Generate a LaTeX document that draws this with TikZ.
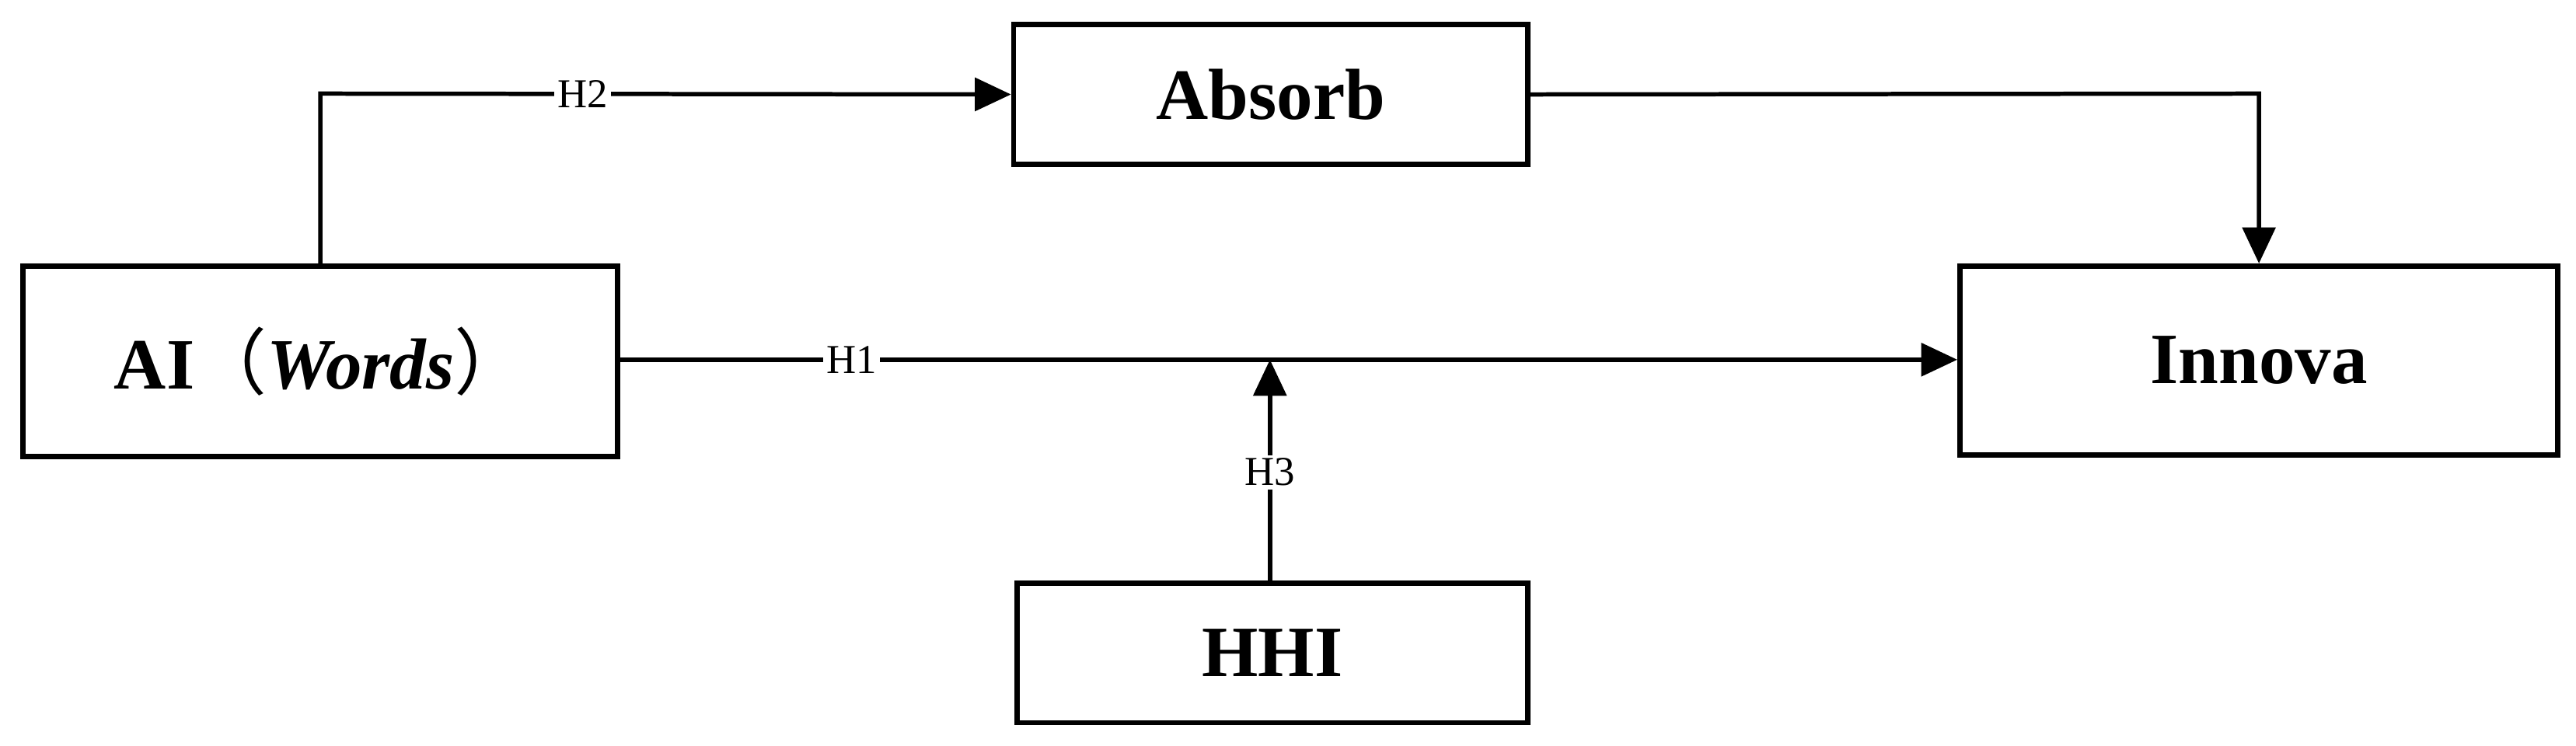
\documentclass[tikz,border=0pt]{standalone}
\usepackage{fontspec}
\setmainfont{Liberation Serif}
\newfontfamily\cjk{Noto Sans CJK SC}
\usetikzlibrary{arrows.meta}
\begin{document}
\begin{tikzpicture}[x=0.5pt,y=-0.5pt,
  box/.style={draw,line width=1.6pt,minimum width=0pt,inner sep=0pt,font=\fontsize{22}{25}\selectfont\bfseries},
  conn/.style={line width=1.3pt,-{Triangle[length=11pt,width=10pt]}},
  lab/.style={fill=white,inner sep=1pt,font=\fontsize{12.5}{14}\selectfont}]
\useasboundingbox (0,0) rectangle (1568,454);
\node[box,minimum width=181pt,minimum height=58pt] (ai) at (195,220) {AI{\cjk\mdseries（}\textit{Words}{\cjk\mdseries）}};
\node[box,minimum width=156.5pt,minimum height=42.5pt] (ab) at (773.5,57.5) {Absorb};
\node[box,minimum width=182pt,minimum height=57.5pt] (in) at (1375,219.5) {Innova};
\node[box,minimum width=155.5pt,minimum height=42.5pt] (hhi) at (774.5,397.5) {HHI};
\coordinate (c1) at (195,57);
\coordinate (c2) at (1375,57);
\coordinate (m) at (773,219);
\draw[conn] (ai.north -| c1) -- (c1) -- node[lab,pos=0.38]{H2} (ab.west);
\draw[conn] (ab.east) -- (c2) -- (in.north);
\draw[conn] (ai.east |- m) -- node[lab,pos=0.173]{H1} (in.west |- m);
\draw[conn] (hhi.north -| m) -- node[lab,pos=0.49]{H3} (m);
\end{tikzpicture}
\end{document}
